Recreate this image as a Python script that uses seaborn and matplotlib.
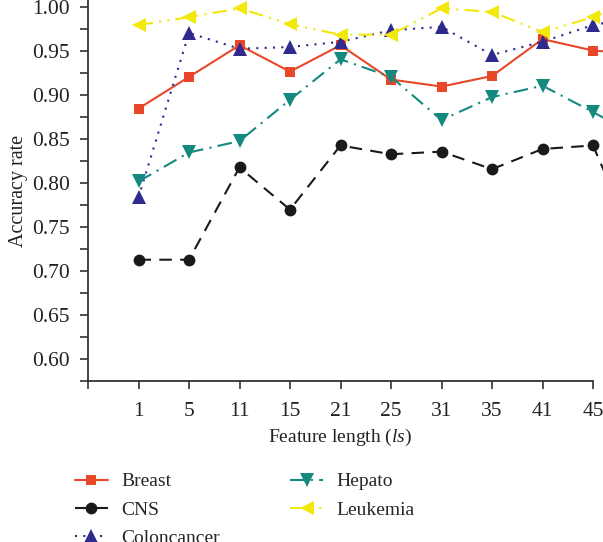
import numpy as np
import pandas as pd
import matplotlib
matplotlib.use("Agg")
import matplotlib.pyplot as plt
from matplotlib.ticker import MultipleLocator
import seaborn as sns

# feature lengths on the x axis (equally spaced categories)
feature_lengths = ["1", "5", "11", "15", "21", "25", "31", "35", "41", "45"]

# accuracy per dataset; last value continues past the cropped right edge
breast = [0.885, 0.921, 0.957, 0.927, 0.957, 0.918, 0.910, 0.922, 0.964, 0.951, 0.947]
cns = [0.713, 0.713, 0.818, 0.770, 0.843, 0.833, 0.836, 0.816, 0.839, 0.843, 0.710]
colon = [0.784, 0.971, 0.953, 0.955, 0.961, 0.974, 0.978, 0.946, 0.961, 0.980, 0.990]
hepato = [0.802, 0.835, 0.848, 0.895, 0.941, 0.921, 0.872, 0.898, 0.911, 0.881, 0.850]
leukemia = [0.980, 0.989, 0.999, 0.981, 0.969, 0.969, 0.999, 0.995, 0.972, 0.989, 1.010]

series = [
    ("Breast", breast, "#E8472A", "s", "-", 7),
    ("CNS", cns, "#1a1a1a", "o", (0, (6, 4)), 8.5),
    ("Coloncancer", colon, "#2E2A8E", "^", (0, (1, 3)), 10),
    ("Hepato", hepato, "#14897F", "v", (0, (7, 3, 1, 3)), 10),
    ("Leukemia", leukemia, "#F2E80C", "<", (0, (7, 3, 1, 3, 1, 3)), 10),
]

sns.set_theme(style="ticks")
plt.rcParams["font.family"] = ["Liberation Serif", "DejaVu Serif"]
plt.rcParams["mathtext.fontset"] = "custom"
plt.rcParams["mathtext.it"] = "Liberation Serif:italic"
plt.rcParams["mathtext.rm"] = "Liberation Serif"

fig = plt.figure(figsize=(6.03, 5.42), dpi=100)
ax = fig.add_axes([88 / 603, 1 - 381 / 542, (593 - 88) / 603, 381 / 542])

for name, vals, color, marker, ls, ms in series:
    df = pd.DataFrame({"x": np.arange(len(vals)), "y": vals})
    sns.lineplot(data=df, x="x", y="y", ax=ax, color=color, marker=marker,
                 markersize=ms, markeredgewidth=0, linestyle=ls, linewidth=1.5,
                 clip_on=False, label=name, legend=False)

ax.set_xlim(-1, 9)
ax.set_ylim(0.575, 1.0085)
ax.set_xticks(np.arange(-1, len(feature_lengths)))
ax.set_xticklabels([""] + feature_lengths)
ax.yaxis.set_minor_locator(MultipleLocator(0.025))
ax.set_yticks(np.arange(0.60, 1.001, 0.05))
ax.set_yticklabels([f"{v:.2f}" for v in np.arange(0.60, 1.001, 0.05)])

for side in ["top", "right"]:
    ax.spines[side].set_visible(False)
for side in ["left", "bottom"]:
    ax.spines[side].set_color("#333333")
    ax.spines[side].set_linewidth(1.3)
ax.tick_params(axis="both", which="both", direction="out", color="#333333",
               width=1.2, labelsize=15.5, labelcolor="#222222")
ax.tick_params(axis="both", which="major", length=6)
ax.tick_params(axis="y", which="minor", length=6)
ax.tick_params(axis="y", pad=7)
ax.tick_params(axis="x", pad=9)

ax.set_xlabel(r"Feature length ($ls$)", fontsize=14, color="#222222", labelpad=4)
ax.set_ylabel("Accuracy rate", fontsize=14.5, color="#222222", labelpad=3)

fig.legend(ncol=2, loc="upper left", bbox_to_anchor=(67 / 603, 1 - 465 / 542),
           frameon=False, fontsize=14, handlelength=1.7, handletextpad=0.7,
           columnspacing=3.6, labelspacing=0.55, borderaxespad=0)

fig.savefig("out.png", dpi=100)
